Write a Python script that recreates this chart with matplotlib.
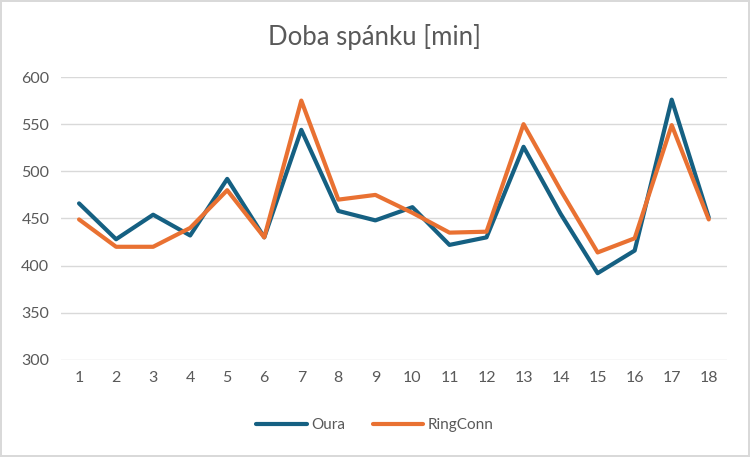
import matplotlib
matplotlib.use("Agg")
import matplotlib.pyplot as plt

days = list(range(1, 19))
oura = [466, 428, 454, 432, 492, 430, 544, 458, 448, 462, 422, 430, 526, 455, 392, 416, 576, 451]
ringconn = [449, 420, 420, 440, 480, 430, 575, 470, 475, 456, 435, 436, 550, 480, 414, 429, 549, 449]

plt.rcParams['font.family'] = ['Lato', 'DejaVu Sans']

fig = plt.figure(figsize=(7.5, 4.57), dpi=100)
fig.patch.set_edgecolor('#d9d9d9')
fig.patch.set_linewidth(1.5)
ax = fig.add_axes([0.0807, 0.2123, 0.889, 0.6192])

ax.plot(days, oura, color='#156082', linewidth=3, label='Oura', solid_joinstyle='round', solid_capstyle='round')
ax.plot(days, ringconn, color='#E97132', linewidth=3, label='RingConn', solid_joinstyle='round', solid_capstyle='round')

ax.set_xlim(0.5, 18.5)
ax.set_ylim(300, 600)
ax.set_yticks(range(300, 601, 50))
ax.set_xticks(days)
ax.grid(axis='y', color='#d9d9d9', linewidth=1)
ax.set_axisbelow(True)
for s in ax.spines.values():
    s.set_visible(False)
ax.tick_params(length=0, colors='#595959', labelsize=11.5, pad=8)

fig.text(0.5, 0.92, 'Doba spánku [min]', ha='center', va='center', fontsize=18.5, color='#595959')

fig.legend(loc='center', bbox_to_anchor=(0.5, 0.07), ncol=2, frameon=False,
           fontsize=11, labelcolor='#595959', handlelength=3.3, handletextpad=0.3, columnspacing=1.8)

fig.savefig('out.png', dpi=100, edgecolor=fig.get_edgecolor())
